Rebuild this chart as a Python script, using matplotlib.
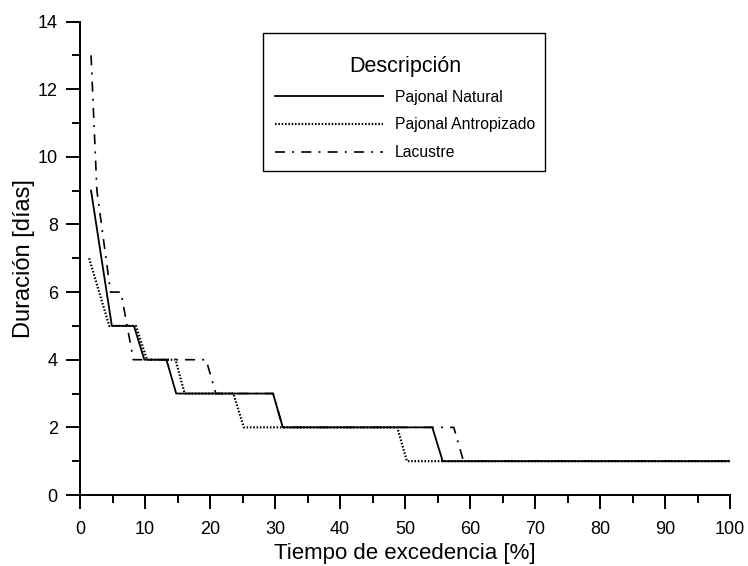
import matplotlib
matplotlib.use("Agg")
import matplotlib.pyplot as plt
from matplotlib.ticker import MultipleLocator
from matplotlib.patches import Rectangle

plt.rcParams['font.family'] = ['Liberation Sans', 'DejaVu Sans']

# curvas de duracion (tiempo de excedencia %, duracion en dias)
natural_x = [1.7, 4.9, 8.3, 9.9, 13.3, 14.8, 29.7, 31.2, 54.2, 55.8, 100]
natural_y = [9, 5, 5, 4, 4, 3, 3, 2, 2, 1, 1]

antrop_x = [1.4, 4.5, 8.6, 10.3, 14.7, 16.1, 23.6, 25.2, 48.8, 50.3, 100]
antrop_y = [7, 5, 5, 4, 4, 3, 3, 2, 2, 1, 1]

lacustre_x = [1.7, 2.6, 4.7, 6.3, 8.2, 19.4, 20.9, 29.7, 31.2, 57.5, 59.0, 100]
lacustre_y = [13, 9, 6, 6, 4, 4, 3, 3, 2, 2, 1, 1]

labels = ["Pajonal Natural", "Pajonal Antropizado", "Lacustre"]

W, H = 748, 566
fig = plt.figure(figsize=(W / 100, H / 100), dpi=100)
ax = fig.add_axes([80 / W, 71 / H, 650 / W, 473.5 / H])

ax.plot(natural_x, natural_y, color="black", lw=1.3, ls="-", label=labels[0])
ax.plot(antrop_x, antrop_y, color="black", lw=1.6, ls=(0, (0.7, 0.8)), label=labels[1])
ax.plot(lacustre_x, lacustre_y, color="black", lw=1.2, ls=(0, (6, 4.3, 1.2, 4.3)), label=labels[2])

ax.set_xlim(0, 100)
ax.set_ylim(0, 14)
ax.xaxis.set_major_locator(MultipleLocator(10))
ax.xaxis.set_minor_locator(MultipleLocator(5))
ax.yaxis.set_major_locator(MultipleLocator(2))
ax.yaxis.set_minor_locator(MultipleLocator(1))
ax.tick_params(which="major", direction="out", length=10, width=1.4, labelsize=13)
ax.tick_params(axis="x", which="major", pad=9)
ax.tick_params(axis="y", which="major", pad=6)
ax.tick_params(which="minor", direction="out", length=5.8, width=1.4)

for s in ["top", "right"]:
    ax.spines[s].set_visible(False)
for s in ["left", "bottom"]:
    ax.spines[s].set_linewidth(1.4)

ax.set_xlabel("Tiempo de excedencia [%]", fontsize=16, labelpad=3)
ax.set_ylabel("Duración [días]", fontsize=17, labelpad=2)

# leyenda sin marco; el marco se dibuja aparte
fs = 11.3
leg = ax.legend(title="Descripción", loc="upper left",
                bbox_to_anchor=((275 - 0.5 * fs * 1.389) / W, 1 - 48.5 / H),
                bbox_transform=fig.transFigure, borderaxespad=0,
                fontsize=fs, title_fontsize=15.5, frameon=False,
                handlelength=108 / (fs * 1.389), handletextpad=0.76, borderpad=0.5,
                labelspacing=0.8, alignment="center")

fig.add_artist(Rectangle((263 / W, 1 - 171 / H), (545 - 263) / W, (171 - 33) / H,
                         transform=fig.transFigure, fill=False, ec="black", lw=1.0))

fig.savefig("out.png", dpi=100)
